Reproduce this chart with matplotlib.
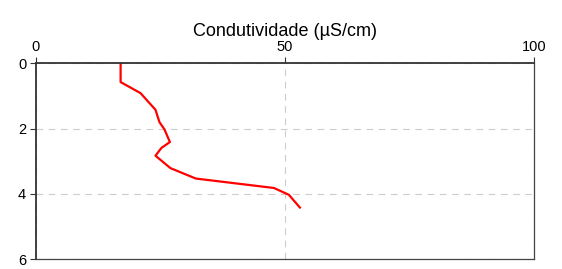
import matplotlib.pyplot as plt

# perfil de condutividade
condutividade = [17.0, 17.0, 21.0, 24.0, 24.8, 25.8, 26.9, 25.2, 24.0, 27.0, 32.1, 47.8, 50.8, 53.0]
profundidade = [0.0, 0.57, 0.91, 1.42, 1.80, 2.02, 2.41, 2.59, 2.83, 3.21, 3.53, 3.82, 4.03, 4.42]
xticks = [0, 50, 100]
yticks = [0, 2, 4, 6]

plt.rcParams['font.family'] = ['Liberation Sans', 'DejaVu Sans']

fig = plt.figure(figsize=(5.62, 2.69), dpi=100)
ax = fig.add_axes([0.064, 0.037, 0.886, 0.727])

ax.plot(condutividade, profundidade, color="red", linewidth=1.6)

ax.set_xlim(0, 100)
ax.set_ylim(6, 0)
ax.set_xticks(xticks)
ax.set_yticks(yticks)
ax.xaxis.tick_top()
ax.xaxis.set_label_position("top")
ax.set_xlabel("Condutividade (\u00b5S/cm)", fontsize=13, labelpad=3)
ax.tick_params(labelsize=10.5, length=4, width=0.8, color="#333333", pad=3)

ax.grid(True, linestyle=(0, (6, 5)), color="#cccccc", linewidth=0.8)
ax.set_axisbelow(True)

for lado in ["top", "left"]:
    ax.spines[lado].set_linewidth(1.3)
    ax.spines[lado].set_color("#333333")
for lado in ["bottom", "right"]:
    ax.spines[lado].set_linewidth(0.9)
    ax.spines[lado].set_color("#444444")

fig.savefig("out.png", dpi=100)
